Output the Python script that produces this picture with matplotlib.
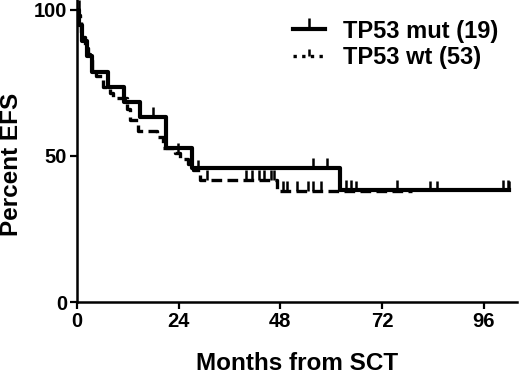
import numpy as np
import matplotlib
matplotlib.use("Agg")
import matplotlib.pyplot as plt
from matplotlib.lines import Line2D

plt.rcParams['font.family'] = ['Liberation Sans', 'DejaVu Sans']
plt.rcParams['font.weight'] = 'bold'

# TP53 mutated (n=19): step times (months) and percent EFS
mut_t = [0, 0.5, 1.3, 2.3, 3.5, 7.3, 11.1, 14.9, 21.0, 27.1, 62.0]
mut_s = [100, 94.7, 89.5, 84.2, 78.9, 73.7, 68.4, 63.2, 52.6, 46.0, 38.3]
mut_end = 102.0
mut_cens = [0.4, 18.0, 55.7, 59.0, 63.5, 64.7, 75.5, 100.5, 101.7]

# TP53 wild type (n=53)
wt_t = [0, 0.3, 0.6, 1.0, 1.5, 2.0, 2.5, 3.0, 3.6, 4.5, 6.1, 7.8, 8.5,
        11.8, 12.5, 14.4, 18.9, 20.3, 23.1, 24.3, 26.2, 27.4, 29.0, 47.2]
wt_s = [100, 98.1, 96.2, 92.5, 90.6, 86.8, 84.9, 83.0, 79.2, 77.4, 73.6,
        71.7, 69.8, 66.0, 62.3, 58.5, 56.6, 52.8, 50.9, 49.0, 47.2, 45.3,
        41.8, 38.1]
wt_end = 79.0
wt_cens = [23.9, 28.5, 30.8, 40.0, 41.2, 43.0, 44.2, 45.8, 46.6,
           48.6, 49.5, 51.9, 54.4, 55.6, 57.6, 65.9, 83.3, 84.9, 102.0]

xticks = [0, 24, 48, 72, 96]
yticks = [0, 50, 100]


def surv_at(t, times, vals):
    idx = np.searchsorted(np.asarray(times), np.asarray(t), side='right') - 1
    return np.asarray(vals)[idx]


fig = plt.figure(figsize=(5.2, 3.78), dpi=100)
ax = fig.add_axes([0.148, 0.201, 0.846, 0.799])

mut_x = list(mut_t) + [mut_end]
mut_y = list(mut_s) + [mut_s[-1]]
wt_x = list(wt_t) + [wt_end]
wt_y = list(wt_s) + [wt_s[-1]]

ax.step(wt_x, wt_y, where='post', color='black', lw=2.4,
        linestyle=(0, (3.2, 1.6)), solid_capstyle='butt')
ax.plot(wt_cens, surv_at(wt_cens, wt_t, wt_s), linestyle='none',
        marker=2, markersize=7, markeredgewidth=1.8, color='black')

ax.step(mut_x, mut_y, where='post', color='black', lw=3.0)
ax.plot(mut_cens, surv_at(mut_cens, mut_t, mut_s), linestyle='none',
        marker=2, markersize=7, markeredgewidth=1.8, color='black')

ax.set_xlim(0, 103.8)
ax.set_ylim(0, 103.4)
ax.set_xticks(xticks)
ax.set_yticks(yticks)
for s in ['top', 'right']:
    ax.spines[s].set_visible(False)
for s in ['left', 'bottom']:
    ax.spines[s].set_linewidth(1.8)
ax.tick_params(direction='out', length=5, width=1.6, labelsize=14.5, pad=2)
for lab in ax.get_xticklabels() + ax.get_yticklabels():
    lab.set_fontweight('bold')

ax.set_xlabel('Months from SCT', fontsize=17.5, fontweight='bold', labelpad=15)
ax.set_ylabel('Percent EFS', fontsize=17.5, fontweight='bold')
ax.yaxis.set_label_coords(-0.123, 0.455)

handles = [
    Line2D([], [], color='black', lw=3.0, marker=2, markersize=8,
           markeredgewidth=1.8),
    Line2D([], [], color='black', lw=2.4, linestyle=(0, (1.0, 1.6)),
           marker=2, markersize=5, markeredgewidth=1.8),
]
ax.legend(handles, ['TP53 mut (19)', 'TP53 wt (53)'], loc='upper left',
          bbox_to_anchor=(0.491, 0.935), frameon=False,
          prop={'size': 17, 'weight': 'bold'}, borderpad=0, borderaxespad=0,
          handlelength=1.35, handletextpad=0.75, labelspacing=0.16)

fig.savefig('out.png', dpi=100)
